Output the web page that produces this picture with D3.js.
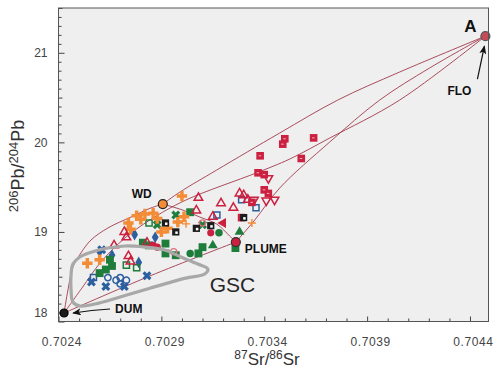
<!DOCTYPE html>
<html>
<head>
<meta charset="utf-8">
<script src="https://cdn.jsdelivr.net/npm/d3@7"></script>
<style>
  body { margin: 0; background: #fff; }
  svg text { font-family: "Liberation Sans", Arial, sans-serif; }
</style>
</head>
<body>
<div class="chart"></div>
<script>
// ---- data (87Sr/86Sr, 206Pb/204Pb) ----
var orangePlus = [
  [0.70254, 18.65], [0.70260, 18.69], [0.70274, 19.10], [0.70275, 19.03],
  [0.70278, 19.18], [0.70280, 19.14], [0.70282, 19.20], [0.70286, 19.21],
  [0.70288, 19.15], [0.70300, 19.40], [0.70290, 19.00], [0.70293, 19.04],
  [0.70298, 19.11], [0.70301, 19.17]
];
var orangeThin = [[0.70334, 19.10], [0.70302, 19.09]];
var redSquares = [
  [0.70350, 20.04], [0.70349, 19.98], [0.70364, 20.05], [0.70338, 19.85],
  [0.70358, 19.82], [0.70337, 19.66], [0.70340, 19.64], [0.70340, 19.47],
  [0.70342, 19.43], [0.70334, 19.33], [0.70329, 19.16]
];
var redTriangles = [
  [0.70308, 19.38], [0.70319, 19.32], [0.70325, 19.27], [0.70315, 19.17],
  [0.70328, 19.43], [0.70330, 19.41], [0.70332, 19.36], [0.70307, 19.24],
  [0.70272, 19.00], [0.70273, 18.94], [0.70267, 18.85], [0.70274, 18.73],
  [0.70275, 18.67], [0.70283, 18.88]
];
var redTrianglesDown = [[0.70342, 19.60], [0.70335, 19.36], [0.70341, 19.35], [0.70345, 19.36]];
var redCircles = [[0.70314, 18.99], [0.70286, 18.85], [0.70288, 18.83]];
var redOpenCircles = [[0.70296, 18.78], [0.70310, 19.10]];
var redWedges = [[0.70320, 19.10]];
var greenSquares = [
  [0.70304, 19.22], [0.70310, 18.83], [0.70308, 18.76], [0.70326, 18.82],
  [0.70281, 18.88], [0.70284, 18.85], [0.70292, 18.87], [0.70292, 18.76],
  [0.70297, 18.74], [0.70265, 18.69], [0.70266, 18.62], [0.70263, 18.58],
  [0.70260, 18.54]
];
var greenOpenSquares = [[0.70284, 19.10], [0.70273, 18.63], [0.70278, 18.60]];
var greenX = [[0.70297, 19.19], [0.70288, 19.08], [0.70310, 19.08]];
var greenTriangles = [[0.70328, 19.00], [0.70315, 18.85]];
var greenCircles = [[0.70318, 18.99], [0.70304, 18.76]];
var blueOpenCircles = [[0.70264, 18.49], [0.70268, 18.46], [0.70270, 18.49], [0.70273, 18.46], [0.70270, 18.42]];
var blueOpenSquares = [[0.70257, 18.49], [0.70317, 19.19], [0.70336, 19.27], [0.70329, 19.36]];
var blueX = [[0.70256, 18.44], [0.70263, 18.39], [0.70272, 18.39], [0.70283, 18.51], [0.70261, 18.80]];
var blueDiamonds = [[0.70277, 18.97], [0.70287, 18.94], [0.70260, 18.78], [0.70266, 18.74], [0.70279, 18.66]];
var blackSquares = [[0.70292, 19.10], [0.70297, 19.00], [0.70307, 19.04], [0.70314, 19.07], [0.70330, 19.16]];

// end members
var endNames = ["DUM", "WD", "PLUME", "A"];
var endSr = [0.702427, 0.702907, 0.703262, 0.704475];
var endPb = [18.095, 19.311, 18.887, 21.186];

// mixing curves between end members
var curveDumWd = [[0.702427, 18.095], [0.702446, 18.352], [0.70247, 18.608], [0.702509, 18.765],
  [0.702558, 18.91], [0.70264, 19.044], [0.702752, 19.166], [0.702849, 19.267], [0.702907, 19.311]];
var curveDumPlume = [[0.702427, 18.095], [0.702844, 18.508], [0.703262, 18.887]];
var curveDumA = [[0.702427, 18.095], [0.702514, 18.374], [0.702606, 18.664], [0.702723, 18.932],
  [0.702844, 19.133], [0.703019, 19.356], [0.703364, 19.661], [0.703524, 19.814],
  [0.703718, 20.048], [0.704058, 20.472], [0.704475, 21.186]];
var curveWdA = [[0.702907, 19.311], [0.70299, 19.445], [0.703169, 19.691], [0.703475, 20.104],
  [0.703757, 20.472], [0.704058, 20.785], [0.704475, 21.186]];
var curvePlumeA = [[0.703262, 18.887], [0.703354, 19.133], [0.703475, 19.49], [0.703718, 20.003],
  [0.703961, 20.472], [0.704203, 20.829], [0.704475, 21.186]];
var curveWdPlume = [[0.702907, 19.311], [0.703004, 19.244], [0.703087, 19.166], [0.703169, 19.088],
  [0.703232, 18.954], [0.703262, 18.887]];

// GSC field outline
var gscOutline = [[0.70247, 18.642], [0.702504, 18.72], [0.702563, 18.776], [0.70264, 18.82],
  [0.702723, 18.843], [0.70282, 18.831], [0.702917, 18.798], [0.702995, 18.72], [0.703077, 18.642],
  [0.703126, 18.586], [0.703111, 18.53], [0.703019, 18.484], [0.702844, 18.372], [0.702699, 18.273],
  [0.702577, 18.195], [0.702504, 18.173], [0.70247, 18.218], [0.702461, 18.352], [0.702461, 18.519]];

var svgWidth = 500;
var svgHeight = 371;
var margin = { top: 8, right: 11.5, bottom: 49.5, left: 58.5 };
var width = svgWidth - margin.left - margin.right;
var height = svgHeight - margin.top - margin.bottom;

var red = "#cc2040", green = "#1f7d3c", blue = "#2c5f9e", orange = "#f48b35", black = "#1c1c1c";

var svg = d3.select(".chart")
  .append("svg")
  .attr("width", svgWidth)
  .attr("height", svgHeight);

var defs = svg.append("defs");
defs.append("marker")
  .attr("id", "arrow")
  .attr("viewBox", "0 0 10 8")
  .attr("refX", 9).attr("refY", 4)
  .attr("markerWidth", 9).attr("markerHeight", 7)
  .attr("markerUnits", "userSpaceOnUse")
  .attr("orient", "auto")
  .append("path")
  .attr("d", "M0,0 L10,4 L0,8 L2.5,4 z")
  .attr("fill", "#111");

var chartGroup = svg.append("g")
  .attr("transform", `translate(${margin.left}, ${margin.top})`);

var x = d3.scaleLinear().domain([0.7024, 0.70449]).range([0, width]);
var y = d3.scaleLinear().domain([18, 21.5]).range([height, 0]);

// plot background
chartGroup.append("rect")
  .attr("width", width)
  .attr("height", height)
  .attr("fill", "#efefef");

// x axis, minor tick every 0.0001, label every 0.0005
var xTicks = d3.range(21).map(function(i) { return 0.7024 + i * 0.0001; });
var bottomAxis = d3.axisBottom(x)
  .tickValues(xTicks)
  .tickSize(-3)
  .tickPadding(16)
  .tickFormat(function(d, i) { return i % 5 === 0 ? d3.format(".4f")(d) : ""; });

var xAxis = chartGroup.append("g")
  .attr("transform", `translate(0, ${height})`)
  .call(bottomAxis);
xAxis.select(".domain").remove();
xAxis.selectAll(".tick line")
  .attr("y2", function(d, i) { return i % 5 === 0 ? -5 : -3; })
  .attr("stroke", "#444");
xAxis.selectAll(".tick text")
  .attr("dx", 3)
  .attr("font-size", 12)
  .attr("letter-spacing", 0.6)
  .attr("fill", "#444");

// y axis, minor tick every 0.1
var yTicks = d3.range(36).map(function(i) { return 18 + i * 0.1; });
var leftAxis = d3.axisLeft(y)
  .tickValues(yTicks)
  .tickSize(-3)
  .tickPadding(11)
  .tickFormat(function(d, i) { return i % 10 === 0 ? Math.round(d) : ""; });

var yAxis = chartGroup.append("g").call(leftAxis);
yAxis.select(".domain").remove();
yAxis.selectAll(".tick line")
  .attr("x2", function(d, i) { return i % 10 === 0 ? 6 : (i % 5 === 0 ? 4 : 3); })
  .attr("stroke", "#444");
yAxis.selectAll(".tick text")
  .attr("font-size", 12)
  .attr("fill", "#444")
  .attr("y", function(d, i) { return i === 0 ? -8.5 : 0; });

// mixing curves
var curveLine = d3.line()
  .x(d => x(d[0]))
  .y(d => y(d[1]))
  .curve(d3.curveCatmullRom.alpha(0.5));

[curveDumWd, curveDumPlume, curveDumA, curveWdA, curvePlumeA, curveWdPlume].forEach(function(c) {
  chartGroup.append("path")
    .attr("d", curveLine(c))
    .attr("fill", "none")
    .attr("stroke", "#a23a4c")
    .attr("stroke-width", 0.9);
});

// thin plus symbol
var symbolThinPlus = {
  draw: function(context, size) {
    var r = Math.sqrt(size) / 2;
    context.moveTo(-r, 0); context.lineTo(r, 0);
    context.moveTo(0, -r); context.lineTo(0, r);
  }
};

function addSymbols(data, type, size, fill, stroke, strokeWidth, rotate) {
  var sym = d3.symbol().type(type).size(size);
  return chartGroup.append("g")
    .selectAll("path")
    .data(data)
    .enter()
    .append("path")
    .attr("d", sym)
    .attr("transform", d => `translate(${x(d[0])}, ${y(d[1])}) rotate(${rotate || 0})`)
    .attr("fill", fill)
    .attr("stroke", stroke)
    .attr("stroke-width", strokeWidth);
}

addSymbols(blueOpenCircles, d3.symbolCircle, 32, "none", blue, 1.5);
addSymbols(blueOpenSquares, d3.symbolSquare, 36, "none", blue, 1.5);
addSymbols(blueX, d3.symbolCross, 50, blue, "none", 0, 45);
addSymbols(blueDiamonds, d3.symbolDiamond, 40, blue, "none", 0);
addSymbols(greenSquares, d3.symbolSquare, 62, green, "none", 0);
addSymbols(greenOpenSquares, d3.symbolSquare, 38, "none", green, 1.5);
addSymbols(greenX, d3.symbolCross, 50, green, "none", 0, 45);
addSymbols(greenTriangles, d3.symbolTriangle, 42, green, "none", 0);
addSymbols(greenCircles, d3.symbolCircle, 44, green, "none", 0);
addSymbols(orangePlus, d3.symbolCross, 60, orange, "none", 0);
addSymbols(orangeThin, symbolThinPlus, 64, "none", orange, 1.4);
addSymbols(redTriangles, d3.symbolTriangle, 32, "none", red, 1.5);
addSymbols(redTrianglesDown, d3.symbolTriangle, 32, "none", red, 1.5, 180);
addSymbols(redOpenCircles, d3.symbolCircle, 30, "none", "#e07080", 1.3);
addSymbols(redCircles, d3.symbolCircle, 40, red, "none", 0);
addSymbols(redWedges, d3.symbolTriangle, 44, red, "none", 0, -90);
addSymbols(redSquares, d3.symbolSquare, 58, red, "none", 0);

// little light specks on the red squares
chartGroup.append("g").selectAll("rect")
  .data(redSquares)
  .enter()
  .append("rect")
  .attr("x", d => x(d[0]) - 1.5)
  .attr("y", d => y(d[1]) - 0.5)
  .attr("width", 2.5)
  .attr("height", 1)
  .attr("fill", "#f0b0bc");

addSymbols(blackSquares, d3.symbolSquare, 52, black, "none", 0);
chartGroup.append("g").selectAll("rect")
  .data(blackSquares)
  .enter()
  .append("rect")
  .attr("x", d => x(d[0]) - 0.5)
  .attr("y", d => y(d[1]) - 0.5)
  .attr("width", 2.5)
  .attr("height", 2.5)
  .attr("fill", "#fff");

// GSC field
chartGroup.append("path")
  .attr("d", d3.line().x(d => x(d[0])).y(d => y(d[1])).curve(d3.curveCatmullRomClosed)(gscOutline))
  .attr("fill", "none")
  .attr("stroke", "#a8a8a8")
  .attr("stroke-width", 3.2);

chartGroup.append("text")
  .attr("x", x(0.703135))
  .attr("y", y(18.33))
  .attr("font-size", 21)
  .attr("fill", "#262626")
  .text("GSC");

// end members
var endFill = ["#1a1a1a", orange, red, "#c64a58"];
var endStroke = ["#000", "#222", "#333", "#555"];
chartGroup.append("g").selectAll("circle")
  .data(endNames)
  .enter()
  .append("circle")
  .attr("cx", (d, i) => x(endSr[i]))
  .attr("cy", (d, i) => y(endPb[i]))
  .attr("r", (d, i) => i === 0 ? 4 : 4.5)
  .attr("fill", (d, i) => endFill[i])
  .attr("stroke", (d, i) => endStroke[i])
  .attr("stroke-width", 1.2);

// end member labels
var labelDx = [51, -11, 9, -9];
var labelDy = [0, -6, 11, -4];
var labelAnchor = ["start", "end", "start", "end"];
chartGroup.append("g").selectAll("text")
  .data(endNames)
  .enter()
  .append("text")
  .attr("x", (d, i) => x(endSr[i]) + labelDx[i])
  .attr("y", (d, i) => y(endPb[i]) + labelDy[i])
  .attr("text-anchor", (d, i) => labelAnchor[i])
  .attr("font-weight", "bold")
  .attr("font-size", (d, i) => i === 3 ? 17 : 12)
  .attr("fill", "#111")
  .text(d => d);

var aX = x(endSr[3]), aY = y(endPb[3]);
chartGroup.append("text")
  .attr("x", aX - 26)
  .attr("y", aY + 59)
  .attr("text-anchor", "middle")
  .attr("font-weight", "bold")
  .attr("font-size", 12)
  .attr("fill", "#111")
  .text("FLO");

// arrows
chartGroup.append("path")
  .attr("d", `M${aX - 8},${aY + 43} L${aX - 1},${aY + 10}`)
  .attr("stroke", "#111")
  .attr("stroke-width", 1.2)
  .attr("fill", "none")
  .attr("marker-end", "url(#arrow)");

var dX = x(endSr[0]), dY = y(endPb[0]);
chartGroup.append("path")
  .attr("d", `M${dX + 46},${dY - 4} Q${dX + 28},${dY - 3} ${dX + 9},${dY}`)
  .attr("stroke", "#111")
  .attr("stroke-width", 1.2)
  .attr("fill", "none")
  .attr("marker-end", "url(#arrow)");

// frame
chartGroup.append("rect")
  .attr("width", width)
  .attr("height", height)
  .attr("fill", "none")
  .attr("stroke", "#555")
  .attr("stroke-width", 1);

// axis titles
var xTitle = svg.append("text")
  .attr("x", 267)
  .attr("y", 365)
  .attr("text-anchor", "middle")
  .attr("font-size", 17)
  .attr("fill", "#333");
xTitle.append("tspan").attr("font-size", 12).attr("dy", -6).text("87");
xTitle.append("tspan").attr("dy", 6).text("Sr/");
xTitle.append("tspan").attr("font-size", 12).attr("dy", -6).text("86");
xTitle.append("tspan").attr("dy", 6).text("Sr");

var yTitle = svg.append("text")
  .attr("transform", "translate(24, 166) rotate(-90)")
  .attr("text-anchor", "middle")
  .attr("font-size", 18)
  .attr("fill", "#333");
yTitle.append("tspan").attr("font-size", 13).attr("dy", -6).text("206");
yTitle.append("tspan").attr("dy", 6).text("Pb/");
yTitle.append("tspan").attr("font-size", 13).attr("dy", -6).text("204");
yTitle.append("tspan").attr("dy", 6).text("Pb");
</script>
</body>
</html>
